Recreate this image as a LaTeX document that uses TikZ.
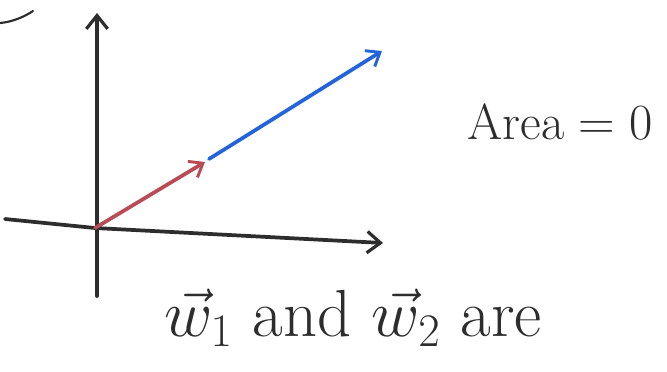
\RequirePackage{fix-cm}
\documentclass[tikz,border=0pt]{standalone}
\usetikzlibrary{arrows.meta}
\definecolor{ink}{RGB}{45,45,45}
\definecolor{redv}{RGB}{185,75,85}
\definecolor{bluev}{RGB}{35,100,220}
\begin{document}
\begin{tikzpicture}[x=0.75pt,y=-0.75pt,
  axis/.style={draw=ink,line width=2.8pt,line cap=round,-{Straight Barb[length=10pt,width=16pt,line width=2.4pt]}},
  vec/.style={line width=2.8pt,line cap=round,-{Straight Barb[length=9pt,width=14pt,line width=2.2pt]}},
  lbl/.style={text=ink,inner sep=0pt,anchor=center}]
\useasboundingbox (0,0) rectangle (667,371);
\fill[white] (0,0) rectangle (667,371);
% named points
\coordinate (O) at (95,228);
\coordinate (ybot) at (97,296);
\coordinate (ytop) at (97,13);
\coordinate (xleft) at (5,219);
\coordinate (xright) at (383,243);
\coordinate (w1) at (205,162);
\coordinate (b0) at (209,159);
\coordinate (w2) at (382,51);
\coordinate (c0) at (0,23);
\coordinate (c1) at (33,11);
% stray curve at top left
\draw[ink,line width=1.6pt,line cap=round] (c0) .. controls (12,22) and (24,17) .. (c1);
% axes
\draw[axis] (ybot) -- (ytop);
\draw[axis] (xleft) -- (O) -- (xright);
% vectors
\draw[vec,draw=redv] (O) -- (w1);
\draw[vec,draw=bluev] (b0) -- (w2);
% labels
\node[lbl,font=\fontsize{38}{42}\selectfont] (area) at (560,122) {Area${}={}$0};
\node[lbl,font=\fontsize{50}{54}\selectfont] (txt) at (353,318) {$\vec{w}_{1}$ and $\vec{w}_{2}$ are};
\end{tikzpicture}
\end{document}
